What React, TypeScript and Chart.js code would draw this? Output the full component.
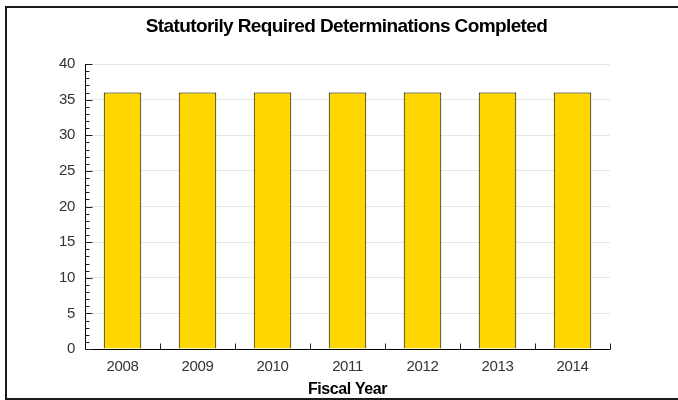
import React, { useEffect, useRef } from 'react';
import { Chart, registerables } from 'chart.js';

Chart.register(...registerables);

const categories = ['2008', '2009', '2010', '2011', '2012', '2013', '2014'];
const determinations = [36, 36, 36, 36, 36, 36, 36];
const yMin = 0;
const yMax = 40;
const yStep = 5;
const yMinorStep = 1;
const chartTitle = 'Statutorily Required Determinations Completed';
const xTitle = 'Fiscal Year';

const FONT = 'Liberation Sans, Arial, sans-serif';

const decorPlugin = {
  id: 'decor',
  beforeDraw(chart: any) {
    (chart.ctx as any).letterSpacing = '-0.4px';
  },
  afterDatasetsDraw(chart: any) {
    const { ctx, chartArea, scales } = chart;
    const xs = scales.x;
    const ys = scales.y;
    ctx.save();
    // outer frame
    ctx.strokeStyle = '#1a1a1a';
    ctx.lineWidth = 2;
    ctx.strokeRect(6, 7, 800, 392);

    // title
    ctx.fillStyle = '#000';
    ctx.font = `bold 19px ${FONT}`;
    (ctx as any).letterSpacing = '-0.6px';
    ctx.textAlign = 'center';
    ctx.textBaseline = 'middle';
    ctx.fillText(chartTitle, (chartArea.left + chartArea.right) / 2 - 1, 27);

    // axis lines
    ctx.strokeStyle = '#000';
    ctx.lineWidth = 1;
    const ax = Math.round(chartArea.left) + 0.5;
    const ay = Math.round(chartArea.bottom) + 0.5;
    ctx.beginPath();
    ctx.moveTo(ax, Math.round(chartArea.top));
    ctx.lineTo(ax, ay);
    ctx.lineTo(Math.round(chartArea.right) + 0.5, ay);
    ctx.stroke();

    // y ticks (inside)
    ctx.strokeStyle = '#222';
    ctx.beginPath();
    for (let v = yMin; v <= yMax; v += yMinorStep) {
      const py = Math.round(ys.getPixelForValue(v)) + 0.5;
      const len = v % yStep === 0 ? 7 : 4;
      ctx.moveTo(ax, py);
      ctx.lineTo(ax + len, py);
    }
    // x ticks (upward at category boundaries)
    for (let i = 1; i <= categories.length; i++) {
      const px =
        i < categories.length
          ? (xs.getPixelForValue(i - 1) + xs.getPixelForValue(i)) / 2
          : chartArea.right;
      const rx = Math.round(px) + 0.5;
      ctx.moveTo(rx, ay);
      ctx.lineTo(rx, ay - 6);
    }
    ctx.stroke();
    ctx.restore();
  },
};

export default function App() {
  const ref = useRef<HTMLCanvasElement>(null);
  useEffect(() => {
    document.body.style.margin = '0';
    const chart = new Chart(ref.current!, {
      type: 'bar',
      data: {
        labels: categories,
        datasets: [
          {
            data: determinations,
            backgroundColor: '#FFD700',
            borderColor: '#000',
            borderWidth: 1,
            barPercentage: 0.5,
            categoryPercentage: 1,
          },
        ],
      },
      options: {
        responsive: false,
        animation: false,
        layout: { padding: { left: 16, right: 68, top: 64, bottom: 0 } },
        plugins: {
          legend: { display: false },
          title: { display: false },
          tooltip: { enabled: false },
        },
        scales: {
          x: {
            grid: { display: false, drawTicks: false },
            border: { display: false },
            ticks: { color: '#333', font: { family: FONT, size: 15 }, padding: 9 },
            title: {
              display: true,
              text: xTitle,
              color: '#000',
              font: { family: FONT, size: 16, weight: 'bold' },
              padding: { top: 0, bottom: 1 },
            },
            afterFit: (s: any) => {
              s.height = 51;
            },
          },
          y: {
            min: yMin,
            max: yMax,
            grid: { color: '#e6e6e6', drawTicks: false },
            border: { display: false },
            ticks: {
              stepSize: yStep,
              color: '#333',
              font: { family: FONT, size: 15 },
              padding: 10,
            },
            afterFit: (s: any) => {
              s.width = 69;
            },
          },
        },
      },
      plugins: [decorPlugin],
    });
    return () => chart.destroy();
  }, []);
  return (
    <div style={{ width: 678, height: 400 }}>
      <canvas ref={ref} width={678} height={400} style={{ display: 'block' }} />
    </div>
  );
}
